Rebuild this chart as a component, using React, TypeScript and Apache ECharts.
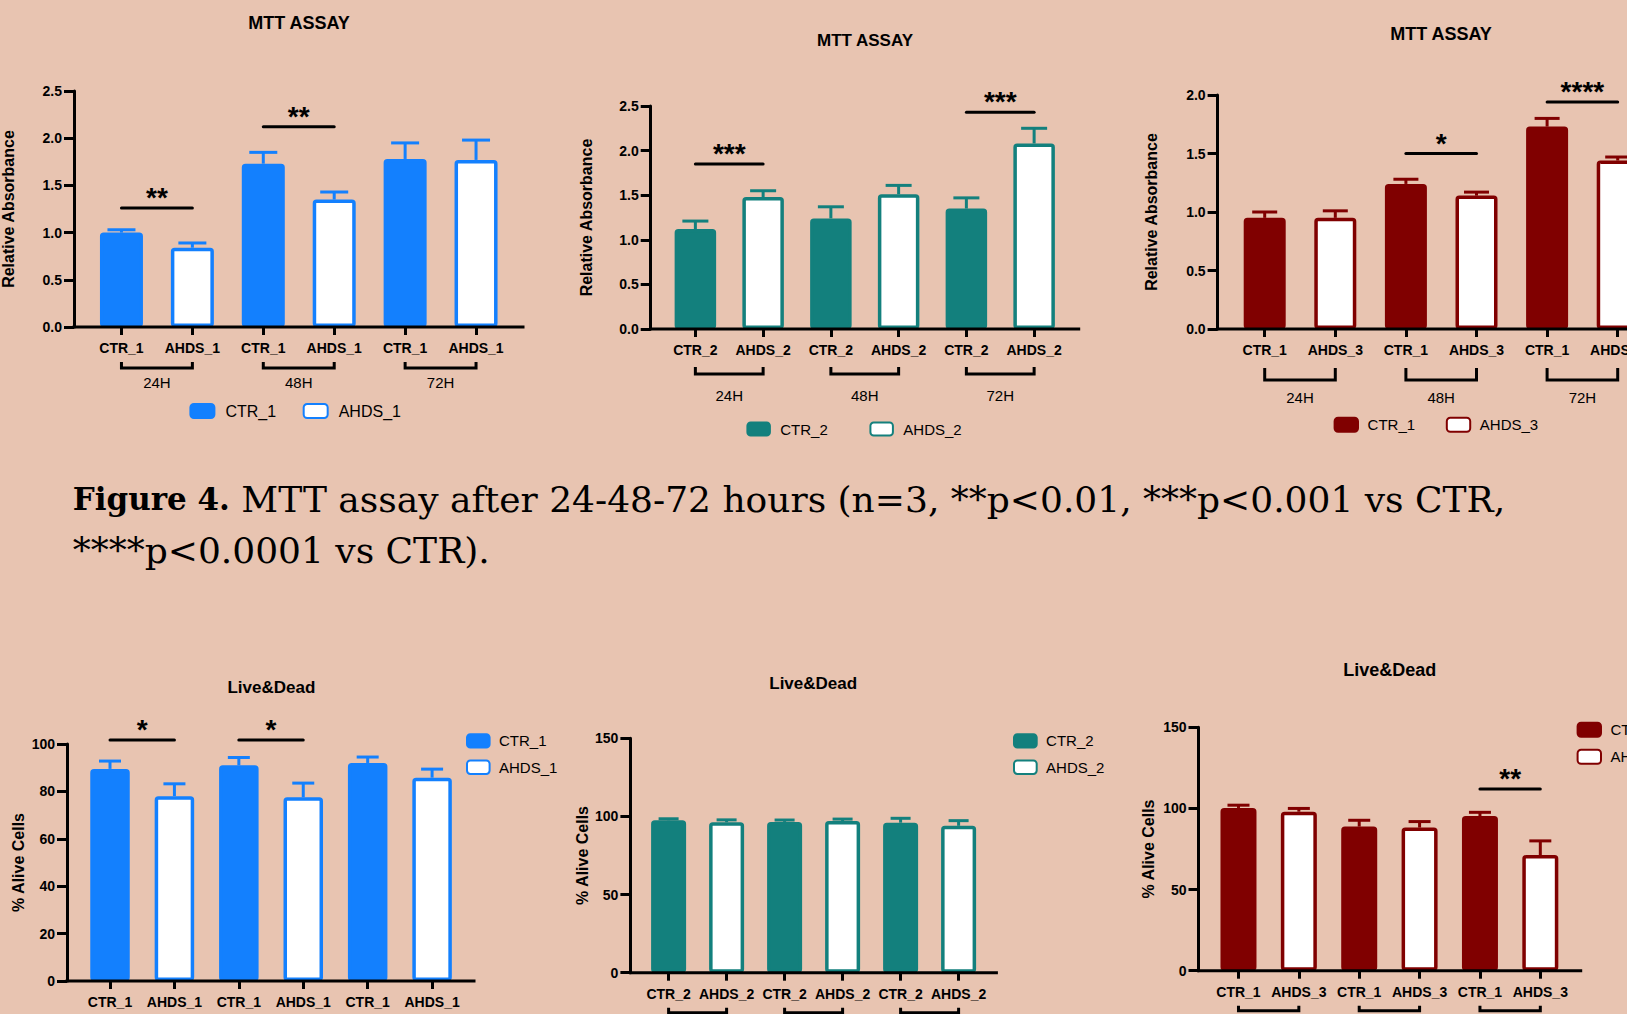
import React, { useEffect, useRef } from 'react';
import * as echarts from 'echarts';

const BG = '#E8C4B1';
const BLUE = '#1380FE';
const TEAL = '#13807D';
const MAROON = '#800000';
const FONT = '"Liberation Sans", Arial, sans-serif';
const SERIF = '"DejaVu Serif", serif';

const times = ['24H', '48H', '72H'];

// MTT assay, panel 1
const mtt1Names = ['CTR_1', 'AHDS_1'];
const mtt1Ctr = [1.0, 1.73, 1.78];
const mtt1CtrErr = [0.03, 0.12, 0.17];
const mtt1Ahds = [0.84, 1.35, 1.77];
const mtt1AhdsErr = [0.05, 0.08, 0.21];
const mtt1SigGroup = [0, 1];
const mtt1SigStars = ['**', '**'];
const mtt1SigLevel = [1.26, 2.12];

// MTT assay, panel 2
const mtt2Names = ['CTR_2', 'AHDS_2'];
const mtt2Ctr = [1.12, 1.24, 1.35];
const mtt2CtrErr = [0.09, 0.13, 0.12];
const mtt2Ahds = [1.48, 1.51, 2.08];
const mtt2AhdsErr = [0.07, 0.1, 0.17];
const mtt2SigGroup = [0, 2];
const mtt2SigStars = ['***', '***'];
const mtt2SigLevel = [1.85, 2.43];

// MTT assay, panel 3
const mtt3Names = ['CTR_1', 'AHDS_3'];
const mtt3Ctr = [0.95, 1.24, 1.73];
const mtt3CtrErr = [0.05, 0.04, 0.07];
const mtt3Ahds = [0.95, 1.14, 1.44];
const mtt3AhdsErr = [0.06, 0.03, 0.03];
const mtt3SigGroup = [1, 2];
const mtt3SigStars = ['*', '****'];
const mtt3SigLevel = [1.5, 1.94];

// Live&Dead, panel 1
const ld1Names = ['CTR_1', 'AHDS_1'];
const ld1Ctr = [89.5, 91, 92];
const ld1CtrErr = [3.3, 3.3, 2.5];
const ld1Ahds = [78, 77.5, 85.8];
const ld1AhdsErr = [5.2, 6, 3.6];
const ld1SigGroup = [0, 1];
const ld1SigStars = ['*', '*'];
const ld1SigLevel = [101.7, 101.7];

// Live&Dead, panel 2
const ld2Names = ['CTR_2', 'AHDS_2'];
const ld2Ctr = [97.5, 96.5, 96];
const ld2CtrErr = [1, 1.2, 2.8];
const ld2Ahds = [96.3, 97, 94];
const ld2AhdsErr = [1.5, 1.3, 3.3];
const ld2SigGroup: number[] = [];
const ld2SigStars: string[] = [];
const ld2SigLevel: number[] = [];

// Live&Dead, panel 3
const ld3Names = ['CTR_1', 'AHDS_3'];
const ld3Ctr = [100.3, 88.8, 95.3];
const ld3CtrErr = [1.7, 3.9, 2.3];
const ld3Ahds = [98, 88.2, 71.3];
const ld3AhdsErr = [2, 3.7, 8.7];
const ld3SigGroup = [2];
const ld3SigStars = ['**'];
const ld3SigLevel = [112];

const captionBold = 'Figure 4.';
const captionLine1 = ' MTT assay after 24-48-72 hours (n=3, **p<0.01, ***p<0.001 vs CTR,';
const captionLine2 = '****p<0.0001 vs CTR).';

const panels = [
  {
    id: 'm1', title: 'MTT ASSAY', yName: 'Relative Absorbance', yMax: 2.5, yStep: 0.5, dec: 1, color: BLUE,
    names: mtt1Names, ctr: mtt1Ctr, ctrErr: mtt1CtrErr, ahds: mtt1Ahds, ahdsErr: mtt1AhdsErr,
    sigGroup: mtt1SigGroup, sigStars: mtt1SigStars, sigLevel: mtt1SigLevel,
    L: { grid: [86, 91, 425.5, 236], yOff: 12, xExt: 11.5, barW: 43, capW: 28, title: [299, 23, 18], yNameXY: [8, 209],
      lg: { left: 189.4, top: 403, orient: 'horizontal', w: 24, h: 14, gap: 26.6, font: 16, pad: 6 },
      br: { off: 41, tick: 6, label: 55 } },
  },
  {
    id: 'm2', title: 'MTT ASSAY', yName: 'Relative Absorbance', yMax: 2.5, yStep: 0.5, dec: 1, color: TEAL,
    names: mtt2Names, ctr: mtt2Ctr, ctrErr: mtt2CtrErr, ahds: mtt2Ahds, ahdsErr: mtt2AhdsErr,
    sigGroup: mtt2SigGroup, sigStars: mtt2SigStars, sigLevel: mtt2SigLevel,
    L: { grid: [661.5, 106, 406.5, 223], yOff: 10.8, xExt: 10.7, barW: 41.5, capW: 26, title: [865, 40, 17], yNameXY: [586.4, 217.5],
      lg: { left: 746.4, top: 421.5, orient: 'horizontal', w: 22.5, h: 13, gap: 41.6, font: 15, pad: 5.4 },
      br: { off: 45, tick: 7, label: 66 } },
  },
  {
    id: 'm3', title: 'MTT ASSAY', yName: 'Relative Absorbance', yMax: 2.0, yStep: 0.5, dec: 1, color: MAROON,
    names: mtt3Names, ctr: mtt3Ctr, ctrErr: mtt3CtrErr, ahds: mtt3Ahds, ahdsErr: mtt3AhdsErr,
    sigGroup: mtt3SigGroup, sigStars: mtt3SigStars, sigLevel: mtt3SigLevel,
    L: { grid: [1229.4, 95, 423.6, 234], yOff: 11.8, xExt: 11, barW: 42, capW: 25, title: [1441, 34, 18], yNameXY: [1151, 212],
      lg: { left: 1333.6, top: 416.7, orient: 'horizontal', w: 23.4, h: 14, gap: 30.7, font: 15, pad: 4.6 },
      br: { off: 51, tick: 12, label: 68 } },
  },
  {
    id: 'l1', title: 'Live&Dead', yName: '% Alive Cells', yMax: 100, yStep: 20, dec: 0, color: BLUE,
    names: ld1Names, ctr: ld1Ctr, ctrErr: ld1CtrErr, ahds: ld1Ahds, ahdsErr: ld1AhdsErr,
    sigGroup: ld1SigGroup, sigStars: ld1SigStars, sigLevel: ld1SigLevel,
    L: { grid: [77.8, 744, 386.5, 237], yOff: 10.8, xExt: 9.7, barW: 39.5, capW: 22, title: [271.4, 687.3, 17], yNameXY: [18.6, 862.5],
      lg: { left: 466, top: 733.3, orient: 'vertical', w: 22.6, h: 13.3, gap: 11, font: 15, pad: 4.4 },
      br: { off: 40, tick: 5, label: 58 } },
  },
  {
    id: 'l2', title: 'Live&Dead', yName: '% Alive Cells', yMax: 150, yStep: 50, dec: 0, color: TEAL,
    names: ld2Names, ctr: ld2Ctr, ctrErr: ld2CtrErr, ahds: ld2Ahds, ahdsErr: ld2AhdsErr,
    sigGroup: ld2SigGroup, sigStars: ld2SigStars, sigLevel: ld2SigLevel,
    L: { grid: [639.6, 738.3, 348, 234.4], yOff: 9.2, xExt: 8.8, barW: 35, capW: 20, title: [813.2, 683.3, 17], yNameXY: [582, 855.5],
      lg: { left: 1013, top: 733.3, orient: 'vertical', w: 22.7, h: 13.3, gap: 11, font: 15, pad: 4.4 },
      br: { off: 40, tick: 5, label: 58 } },
  },
  {
    id: 'l3', title: 'Live&Dead', yName: '% Alive Cells', yMax: 150, yStep: 50, dec: 0, color: MAROON,
    names: ld3Names, ctr: ld3Ctr, ctrErr: ld3CtrErr, ahds: ld3Ahds, ahdsErr: ld3AhdsErr,
    sigGroup: ld3SigGroup, sigStars: ld3SigStars, sigLevel: ld3SigLevel,
    L: { grid: [1208.3, 727.3, 362.2, 243.4], yOff: 9.8, xExt: 10.2, barW: 36, capW: 22, title: [1389.7, 670, 18], yNameXY: [1148.7, 849],
      lg: { left: 1576.6, top: 721.8, orient: 'vertical', w: 23.4, h: 14, gap: 11, font: 15, pad: 4.4 },
      br: { off: 40, tick: 5, label: 58 } },
  },
];

function txt(x: number, y: number, text: string, font: string, extra: any = {}) {
  return {
    type: 'text', x, y, silent: true, ...extra,
    style: { text, font, fill: '#000', align: 'center', verticalAlign: 'middle', textAlign: 'center', textVerticalAlign: 'middle' },
  };
}

function buildOption() {
  const grid: any[] = [];
  const xAxis: any[] = [];
  const yAxis: any[] = [];
  const series: any[] = [];
  const legend: any[] = [];
  const graphic: any[] = [];
  const legendLabels: Record<string, string> = {};

  panels.forEach((p, k) => {
    const L: any = p.L;
    const cats: string[] = [];
    times.forEach(() => { cats.push(p.names[0], p.names[1]); });
    grid.push({ left: L.grid[0], top: L.grid[1], width: L.grid[2], height: L.grid[3], containLabel: false, outerBoundsMode: 'none' });
    xAxis.push({
      type: 'category', gridIndex: k, data: cats,
      axisLine: { show: false },
      axisTick: { show: true, alignWithLabel: true, length: 8, lineStyle: { color: '#000', width: 3 } },
      axisLabel: { interval: 0, margin: 14, color: '#000', fontSize: 14, fontWeight: 'bold', fontFamily: FONT },
      splitLine: { show: false },
    });
    yAxis.push({
      type: 'value', gridIndex: k, min: 0, max: p.yMax, interval: p.yStep, offset: L.yOff,
      axisLine: { show: true, lineStyle: { color: '#000', width: 3 } },
      axisTick: { show: true, length: 10, lineStyle: { color: '#000', width: 3 } },
      axisLabel: { margin: 12, color: '#000', fontSize: 14, fontWeight: 'bold', fontFamily: FONT,
        formatter: (v: number) => v.toFixed(p.dec) },
      splitLine: { show: false },
    });

    const ctrName = p.id + '-ctr';
    const ahdsName = p.id + '-ahds';
    legendLabels[ctrName] = p.names[0];
    legendLabels[ahdsName] = p.names[1];
    const ctrData: any[] = [];
    const ahdsData: any[] = [];
    p.ctr.forEach((v, g) => { ctrData.push(v, '-'); ahdsData.push('-', p.ahds[g]); });

    series.push({
      type: 'bar', name: ctrName, xAxisIndex: k, yAxisIndex: k, data: ctrData, barWidth: L.barW, barGap: '-100%',
      itemStyle: { color: p.color, borderColor: p.color, borderWidth: 3.5, borderRadius: 2 }, z: 2, silent: true,
    });
    series.push({
      type: 'bar', name: ahdsName, xAxisIndex: k, yAxisIndex: k, data: ahdsData, barWidth: L.barW, barGap: '-100%',
      itemStyle: { color: '#ffffff', borderColor: p.color, borderWidth: 3.5, borderRadius: 2 }, z: 2, silent: true,
    });

    // error bars (mean + SEM)
    const errData: number[][] = [];
    p.ctr.forEach((v, g) => errData.push([2 * g, v, p.ctrErr[g]]));
    p.ahds.forEach((v, g) => errData.push([2 * g + 1, v, p.ahdsErr[g]]));
    series.push({
      type: 'custom', xAxisIndex: k, yAxisIndex: k, data: errData, z: 1, silent: true, clip: false,
      encode: { x: 0, y: 1 },
      renderItem: (params: any, api: any) => {
        const x = api.value(0), v = api.value(1), e = api.value(2);
        const a = api.coord([x, v]);
        const b = api.coord([x, v + e]);
        const st = { stroke: p.color, lineWidth: 3 };
        return {
          type: 'group', children: [
            { type: 'line', shape: { x1: a[0], y1: a[1], x2: b[0], y2: b[1] }, style: st },
            { type: 'line', shape: { x1: b[0] - L.capW / 2, y1: b[1], x2: b[0] + L.capW / 2, y2: b[1] }, style: st },
          ],
        };
      },
    });

    // x axis line (extends past the category bands)
    series.push({
      type: 'custom', xAxisIndex: k, yAxisIndex: k, data: [[0, 0]], z: 10, silent: true, clip: false,
      renderItem: (params: any) => {
        const cs = params.coordSys;
        const y = cs.y + cs.height;
        return { type: 'line', shape: { x1: cs.x - L.yOff, y1: y, x2: cs.x + cs.width + L.xExt, y2: y },
          style: { stroke: '#000', lineWidth: 3, lineCap: 'square' } };
      },
    });

    // time brackets
    series.push({
      type: 'custom', xAxisIndex: k, yAxisIndex: k, data: times.map((t, g) => [2 * g, 0]), z: 10, silent: true, clip: false,
      renderItem: (params: any, api: any) => {
        const g = params.dataIndex;
        const x0 = api.coord([2 * g, 0])[0];
        const x1 = api.coord([2 * g + 1, 0])[0];
        const base = params.coordSys.y + params.coordSys.height;
        const y = base + L.br.off;
        return {
          type: 'group', children: [
            { type: 'polyline', shape: { points: [[x0, y - L.br.tick], [x0, y], [x1, y], [x1, y - L.br.tick]] },
              style: { stroke: '#000', lineWidth: 3, fill: null } },
            txt((x0 + x1) / 2, base + L.br.label, times[g], '15px ' + FONT),
          ],
        };
      },
    });

    // significance markers
    if (p.sigGroup.length) {
      series.push({
        type: 'custom', xAxisIndex: k, yAxisIndex: k, data: p.sigGroup.map((g, j) => [2 * g, p.sigLevel[j]]),
        z: 10, silent: true, clip: false,
        renderItem: (params: any, api: any) => {
          const j = params.dataIndex;
          const g = p.sigGroup[j];
          const lv = p.sigLevel[j];
          const a = api.coord([2 * g, lv]);
          const b = api.coord([2 * g + 1, lv]);
          return {
            type: 'group', children: [
              { type: 'line', shape: { x1: a[0], y1: a[1], x2: b[0], y2: b[1] },
                style: { stroke: '#000', lineWidth: 3, lineCap: 'round' } },
              txt((a[0] + b[0]) / 2, a[1] - 10.5, p.sigStars[j], 'bold 28px ' + FONT),
            ],
          };
        },
      });
    }

    legend.push({
      data: [ctrName, ahdsName], left: L.lg.left, top: L.lg.top, orient: L.lg.orient, padding: 0,
      itemWidth: L.lg.w, itemHeight: L.lg.h, itemGap: L.lg.gap, selectedMode: false, icon: 'roundRect',
      formatter: (name: string) => legendLabels[name],
      textStyle: { color: '#000', fontSize: L.lg.font, fontFamily: FONT, padding: [0, 0, 0, L.lg.pad] },
    });

    graphic.push(txt(L.title[0], L.title[1], p.title, 'bold ' + L.title[2] + 'px ' + FONT));
    graphic.push(txt(L.yNameXY[0], L.yNameXY[1], p.yName, 'bold 16px ' + FONT, { rotation: Math.PI / 2 }));
  });

  graphic.push({
    type: 'text', x: 72.7, y: 499, silent: true,
    style: {
      text: '{b|' + captionBold + '}{r|' + captionLine1 + '}',
      verticalAlign: 'middle', textVerticalAlign: 'middle', align: 'left', textAlign: 'left', fill: '#000',
      rich: { b: { font: 'bold 31px ' + SERIF, fill: '#000' }, r: { font: '36px ' + SERIF, fill: '#000' } },
    },
  });
  graphic.push({
    type: 'text', x: 72.7, y: 550, silent: true,
    style: { text: captionLine2, font: '36px ' + SERIF, fill: '#000', verticalAlign: 'middle', textVerticalAlign: 'middle', align: 'left', textAlign: 'left' },
  });

  return {
    animation: false,
    backgroundColor: BG,
    textStyle: { fontFamily: FONT },
    grid, xAxis, yAxis, series, legend, graphic,
  };
}

export default function App() {
  const ref = useRef<HTMLDivElement>(null);
  useEffect(() => {
    document.body.style.margin = '0';
    document.body.style.background = BG;
    const chart = echarts.init(ref.current!, null, { renderer: 'svg' });
    chart.setOption(buildOption() as any);
    return () => chart.dispose();
  }, []);
  return <div ref={ref} style={{ width: 1627, height: 1014, background: BG, overflow: 'hidden' }} />;
}
